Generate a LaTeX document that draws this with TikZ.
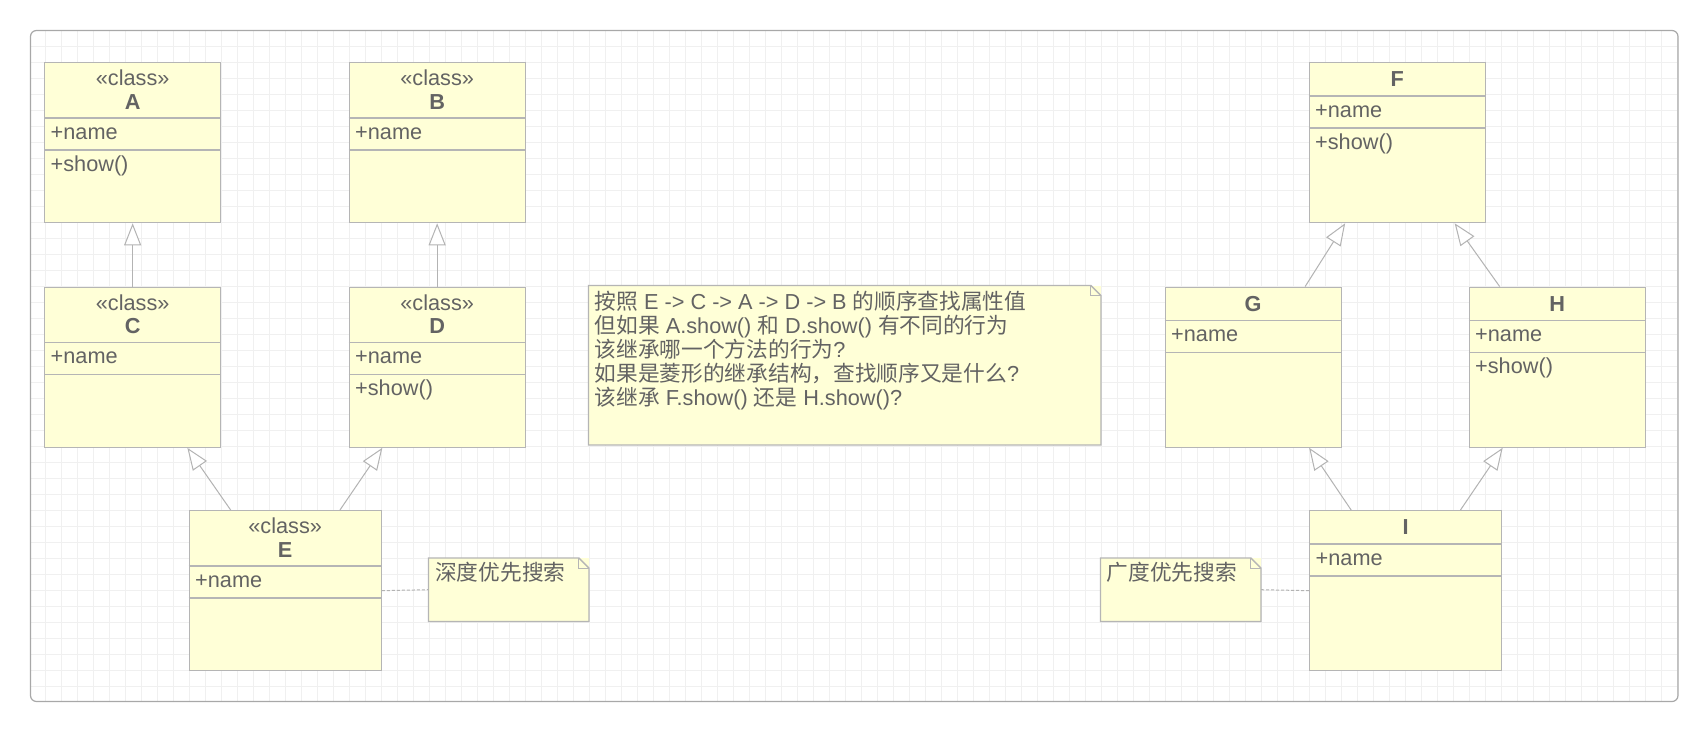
\documentclass[tikz,border=0pt]{standalone}
\usepackage{fontspec}
\setmainfont{Liberation Sans}
\newfontfamily\cjk{Noto Sans CJK SC}
\usetikzlibrary{arrows.meta}
\definecolor{fillyellow}{HTML}{FFFFD7}
\definecolor{boxborder}{HTML}{B5B5B5}
\definecolor{textgray}{HTML}{636363}
\definecolor{gridgray}{HTML}{F0F0F0}
\definecolor{framegray}{HTML}{A8A8A8}
\definecolor{linkgray}{HTML}{B3B3B3}
\tikzset{
  classbox/.style={draw=boxborder, fill=fillyellow, line width=1.3pt, minimum height=160pt, inner sep=0pt, rectangle},
  divider/.style={draw=boxborder, line width=1.3pt},
  notebody/.style={fill=fillyellow, inner sep=0pt, rectangle},
  noteline/.style={draw=boxborder, line width=1.3pt, line join=miter},
  txt/.style={font=\fontsize{21.7}{24}\selectfont, text=textgray, inner sep=0pt},
  inh/.style={draw=linkgray, line width=1pt, -{Triangle[length=22pt, width=17pt, fill=white]}},
  notelink/.style={draw=linkgray, line width=1pt, dash pattern=on 3pt off 2pt},
}
\newcommand{\mkclass}[5]{%
  \node[classbox, minimum width=#4, anchor=north west] (#1) at (#2,#3) {};
  \draw[divider] ([yshift=-#5pt]#1.north west) -- ([yshift=-#5pt]#1.north east);
  \draw[divider] ([yshift=-#5pt-32pt]#1.north west) -- ([yshift=-#5pt-32pt]#1.north east);
}
\newcommand{\mknote}[5]{%
  \node[notebody, minimum width=#4, minimum height=#5, anchor=north west] (#1) at (#2,#3) {};
  \draw[noteline] (#1.north west) -- ([xshift=-10pt]#1.north east) -- ([yshift=-10pt]#1.north east) -- (#1.south east) -- (#1.south west) -- cycle;
  \draw[noteline, line width=1pt] ([xshift=-10pt]#1.north east) -- ([xshift=-10pt,yshift=-10pt]#1.north east) -- ([yshift=-10pt]#1.north east);
}
\begin{document}
\begin{tikzpicture}[x=1pt,y=-1pt]
\useasboundingbox (0,0) rectangle (1707,732);
\fill[white] (0,0) rectangle (1707,732);
% grid inside frame
\begin{scope}
  \clip[rounded corners=6pt] (30.5,30.5) rectangle (1678,701.5);
  \foreach \i in {2,...,104} \draw[gridgray, line width=1pt] (13+16*\i,30) -- (13+16*\i,702);
  \foreach \j in {2,...,43} \draw[gridgray, line width=1pt] (30,14+16*\j) -- (1678,14+16*\j);
\end{scope}
\draw[framegray, line width=1.2pt, rounded corners=6pt] (30.5,30.5) rectangle (1678,701.5);

% classes
\mkclass{A}{44}{62}{176}{56}
\mkclass{B}{348.5}{62}{176}{56}
\mkclass{C}{44}{286.5}{176}{56}
\mkclass{D}{348.5}{286.5}{176}{56}
\mkclass{E}{188.5}{510}{192}{56}
\mkclass{F}{1308.5}{62}{176}{34}
\mkclass{G}{1164.5}{286.5}{176}{34}
\mkclass{H}{1468.5}{286.5}{176}{34}
\mkclass{I}{1309}{510}{192}{34}

% stereotype headers
\foreach \c in {A,B,C,D,E}{
  \node[txt, anchor=base] (\c st) at ([yshift=-23.6pt]\c.north) {«class»};
  \node[txt, font=\fontsize{21.7}{24}\selectfont\bfseries, anchor=base] (\c nm) at ([yshift=-47.2pt]\c.north) {\c};
  \node[txt, anchor=base west] (\c at) at ([xshift=6.5pt,yshift=-77pt]\c.north west) {+name};
}
\foreach \c in {F,G,H,I}{
  \node[txt, font=\fontsize{21.7}{24}\selectfont\bfseries, anchor=base] (\c nm) at ([yshift=-24.5pt]\c.north) {\c};
  \node[txt, anchor=base west] (\c at) at ([xshift=6.5pt,yshift=-55pt]\c.north west) {+name};
}
\node[txt, anchor=base west] (A op) at ([xshift=6.5pt,yshift=-109pt]A.north west) {+show()};
\node[txt, anchor=base west] (D op) at ([xshift=6.5pt,yshift=-109pt]D.north west) {+show()};
\node[txt, anchor=base west] (F op) at ([xshift=6.5pt,yshift=-87pt]F.north west) {+show()};
\node[txt, anchor=base west] (H op) at ([xshift=6.5pt,yshift=-87pt]H.north west) {+show()};

% notes
\mknote{nb}{588.5}{285.5}{512}{159}
\mknote{n1}{428.5}{558}{160}{63}
\mknote{n2}{1100.5}{558}{160}{63}

\node[txt, anchor=base west] (nbl1) at ([xshift=6pt,yshift=-24pt]nb.north west) {{\cjk 按照} E -> C -> A -> D -> B {\cjk 的顺序查找属性值}};
\node[txt, anchor=base west] (nbl2) at ([yshift=-24pt]nbl1.base west) {{\cjk 但如果} A.show() {\cjk 和} D.show() {\cjk 有不同的行为}};
\node[txt, anchor=base west] (nbl3) at ([yshift=-24pt]nbl2.base west) {{\cjk 该继承哪一个方法的行为}?};
\node[txt, anchor=base west] (nbl4) at ([yshift=-24pt]nbl3.base west) {{\cjk 如果是菱形的继承结构，查找顺序又是什么}?};
\node[txt, anchor=base west] (nbl5) at ([yshift=-24pt]nbl4.base west) {{\cjk 该继承} F.show() {\cjk 还是} H.show()?};

\node[txt, anchor=base west] (n1t) at ([xshift=6.5pt,yshift=-22.7pt]n1.north west) {{\cjk 深度优先搜索}};
\node[txt, anchor=base west] (n2t) at ([xshift=6pt,yshift=-22.7pt]n2.north west) {{\cjk 广度优先搜索}};

% inheritance connectors
\draw[inh] (C.north) -- (A.south);
\draw[inh] (D.north) -- (B.south);
\draw[inh] ([xshift=-54.5pt]E.north) -- ([xshift=54.7pt]C.south);
\draw[inh] ([xshift=54.8pt]E.north) -- ([xshift=-54.8pt]D.south);
\draw[inh] ([xshift=52pt]G.north) -- ([xshift=-52pt]F.south);
\draw[inh] ([xshift=-57.5pt]H.north) -- ([xshift=57.5pt]F.south);
\draw[inh] ([xshift=-54.5pt]I.north) -- ([xshift=56pt]G.south);
\draw[inh] ([xshift=54.8pt]I.north) -- ([xshift=-54.5pt]H.south);

% note links
\draw[notelink] (E.east) -- (n1.west);
\draw[notelink] (I.west) -- (n2.east);
\end{tikzpicture}
\end{document}
